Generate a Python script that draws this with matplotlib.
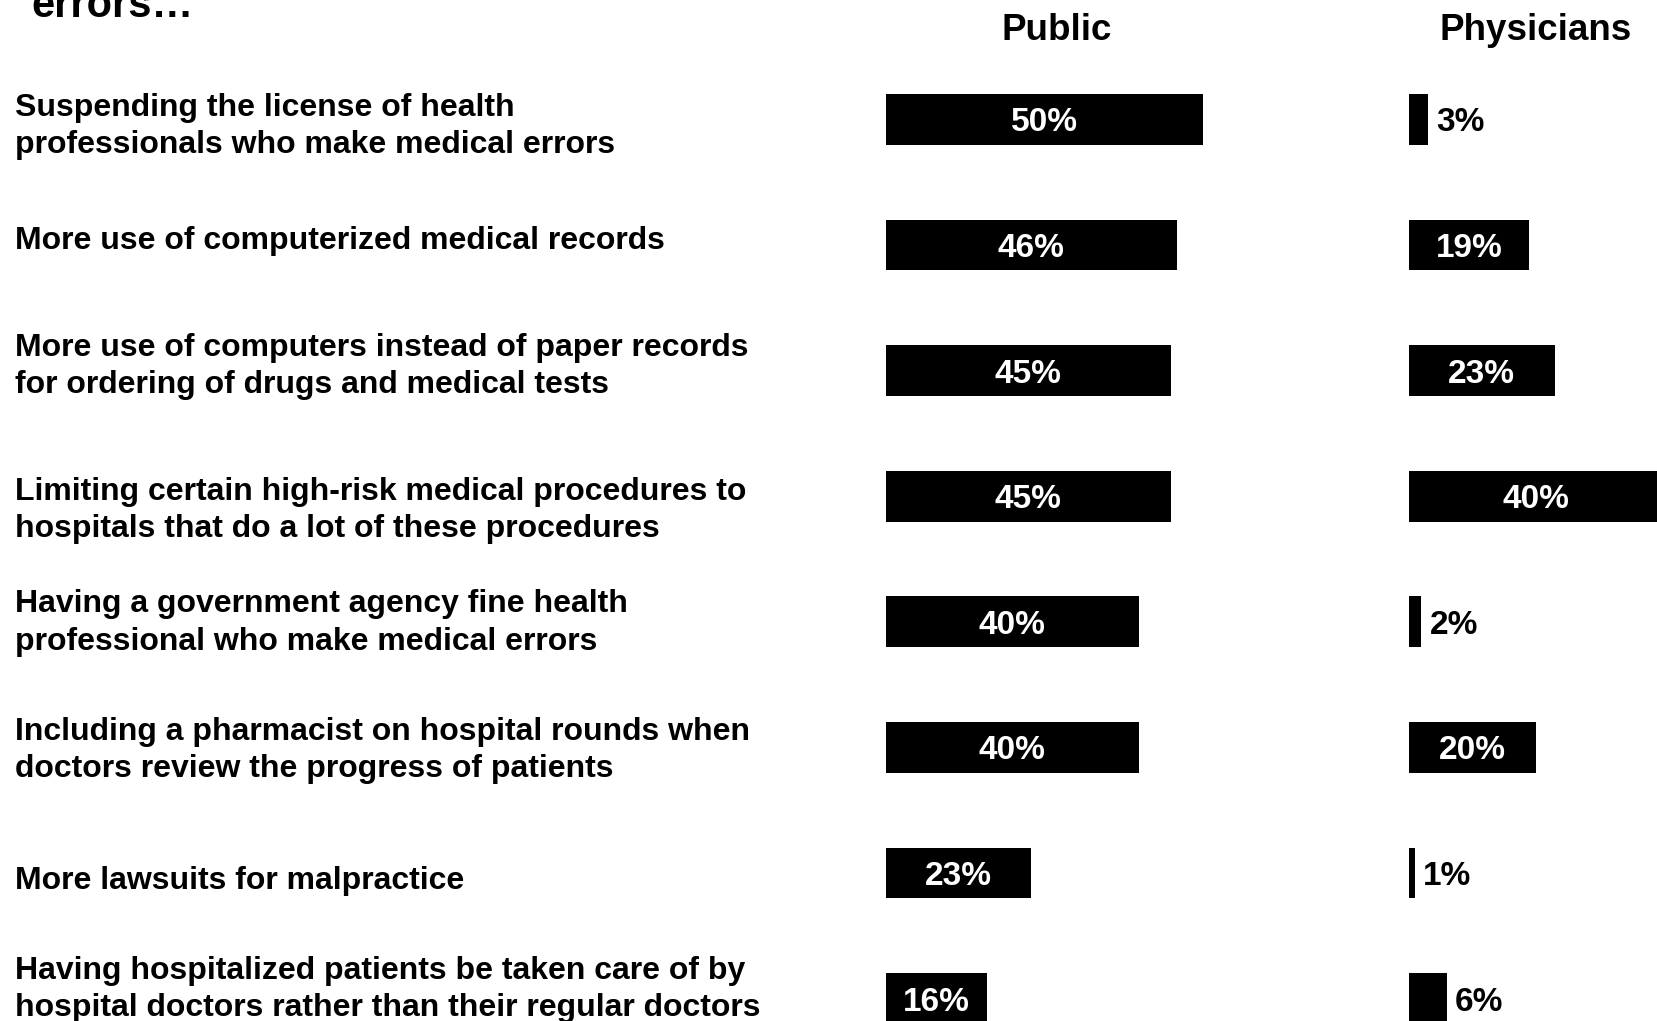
import matplotlib.pyplot as plt
import matplotlib.transforms as mtransforms

plt.rcParams['font.family'] = ['Liberation Sans', 'DejaVu Sans']
plt.rcParams['font.weight'] = 'bold'

# Données
categories = [
    "Suspending the license of health\nprofessionals who make medical errors",
    "More use of computerized medical records",
    "More use of computers instead of paper records\nfor ordering of drugs and medical tests",
    "Limiting certain high-risk medical procedures to\nhospitals that do a lot of these procedures",
    "Having a government agency fine health\nprofessional who make medical errors",
    "Including a pharmacist on hospital rounds when\ndoctors review the progress of patients",
    "More lawsuits for malpractice",
    "Having hospitalized patients be taken care of by\nhospital doctors rather than their regular doctors",
]
public = [50, 46, 45, 45, 40, 40, 23, 16]
physicians = [3, 19, 23, 40, 2, 20, 1, 6]
groups = ["Public", "Physicians"]

# Décalage vertical des libellés (pixels) par rapport au centre des barres
label_dy = [7, -4, -4, 14, 1, 3, 8, -9]

W, H = 1657, 1021
fig = plt.figure(figsize=(W / 100, H / 100), dpi=100)

px_per_pct = 6.34
top, bottom = 56.6, 1061.5
ax_h = (bottom - top) / H
ax_y = (H - bottom) / H

ax_pub = fig.add_axes([885.6 / W, ax_y, 50 * px_per_pct / W, ax_h])
ax_phy = fig.add_axes([1408.7 / W, ax_y, 40 * px_per_pct / W, ax_h])

ypos = list(range(len(categories)))
bar_h = 0.404

for ax, vals, lim in [(ax_pub, public, 50), (ax_phy, physicians, 40)]:
    ax.barh(ypos, vals, height=bar_h, color='black')
    ax.set_xlim(0, lim)
    ax.set_ylim(len(categories) - 0.5, -0.5)
    ax.axis('off')
    for y, v in zip(ypos, vals):
        if v >= 10:
            ax.text(v / 2, y, f"{v}%", ha='center', va='center_baseline', color='white',
                    fontsize=24, fontweight='bold', clip_on=False)
        else:
            ax.annotate(f"{v}%", (v, y), xytext=(6, 0), textcoords='offset points',
                        ha='left', va='center_baseline', color='black', fontsize=24,
                        fontweight='bold')

# Libellés des catégories
trans = mtransforms.blended_transform_factory(fig.transFigure, ax_pub.transData)
spacing_px = (bottom - top) / len(categories)
for y, lab, dy in zip(ypos, categories, label_dy):
    fig.text(14.8 / W, y + dy / spacing_px, lab, transform=trans, ha='left',
             va='center', fontsize=23, fontweight='bold', linespacing=1.32)

# Titres
fig.text(1056.8 / W, 1 - 30.5 / H, groups[0], ha='center', va='center',
         fontsize=26.5, fontweight='bold')
fig.text(1535.5 / W, 1 - 30.5 / H, groups[1], ha='center', va='center',
         fontsize=26.5, fontweight='bold')
fig.text(31.7 / W, 1 - 17 / H, "errors…", ha='left', va='baseline',
         fontsize=30, fontweight='bold')

plt.savefig('out.png', dpi=100)
